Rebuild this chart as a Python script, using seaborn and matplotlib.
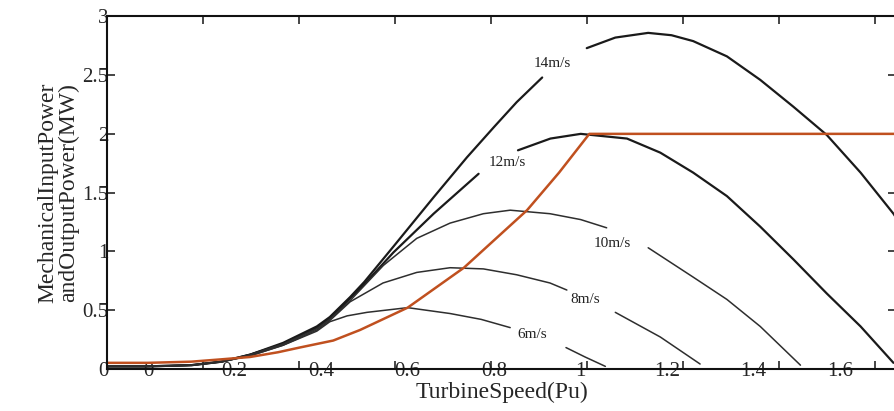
import matplotlib
matplotlib.use("Agg")
import matplotlib.pyplot as plt
import pandas as pd
import seaborn as sns

# Values (x in Pu, y in MW).
# Each wind speed curve is split where its label sits on the line.
speed_14a = [-0.095, 0.0, 0.1, 0.17, 0.236, 0.312, 0.39, 0.42, 0.467, 0.5,
             0.567, 0.66, 0.737, 0.8, 0.852, 0.911]
power_14a = [0.02, 0.02, 0.03, 0.06, 0.12, 0.22, 0.36, 0.44, 0.61, 0.74,
             1.04, 1.46, 1.80, 2.06, 2.27, 2.48]
speed_14b = [1.014, 1.08, 1.156, 1.21, 1.26, 1.338, 1.415, 1.492, 1.569,
             1.647, 1.723, 1.73]
power_14b = [2.73, 2.82, 2.86, 2.84, 2.79, 2.66, 2.46, 2.23, 1.99, 1.67,
             1.32, 1.28]

speed_12a = [-0.095, 0.0, 0.1, 0.17, 0.236, 0.312, 0.39, 0.42, 0.467, 0.5,
             0.567, 0.66, 0.764]
power_12a = [0.02, 0.02, 0.03, 0.06, 0.12, 0.21, 0.35, 0.43, 0.60, 0.72,
             0.99, 1.32, 1.66]
speed_12b = [0.855, 0.93, 1.0, 1.107, 1.184, 1.26, 1.338, 1.415, 1.492,
             1.569, 1.647, 1.723]
power_12b = [1.86, 1.96, 2.0, 1.96, 1.84, 1.67, 1.47, 1.21, 0.93, 0.64,
             0.36, 0.05]

speed_10a = [-0.095, 0.0, 0.1, 0.17, 0.236, 0.312, 0.39, 0.42, 0.467, 0.544,
             0.621, 0.698, 0.775, 0.837, 0.929, 1.0, 1.06]
power_10a = [0.02, 0.02, 0.03, 0.06, 0.12, 0.21, 0.34, 0.42, 0.58, 0.88,
             1.11, 1.24, 1.32, 1.35, 1.32, 1.27, 1.20]
speed_10b = [1.156, 1.26, 1.338, 1.415, 1.508]
power_10b = [1.03, 0.78, 0.59, 0.36, 0.03]

speed_8a = [-0.095, 0.0, 0.1, 0.17, 0.236, 0.312, 0.39, 0.42, 0.467, 0.543,
            0.621, 0.698, 0.775, 0.852, 0.929, 0.968]
power_8a = [0.02, 0.02, 0.03, 0.06, 0.11, 0.20, 0.33, 0.41, 0.57, 0.73,
            0.82, 0.86, 0.85, 0.80, 0.73, 0.67]
speed_8b = [1.08, 1.184, 1.276]
power_8b = [0.48, 0.27, 0.04]

speed_6a = [-0.095, 0.0, 0.1, 0.17, 0.236, 0.312, 0.39, 0.42, 0.46, 0.506,
            0.60, 0.698, 0.77, 0.837]
power_6a = [0.02, 0.02, 0.03, 0.06, 0.11, 0.20, 0.32, 0.40, 0.45, 0.48,
            0.52, 0.47, 0.42, 0.35]
speed_6b = [0.966, 1.01, 1.057]
power_6b = [0.18, 0.10, 0.02]

speed_out = [-0.095, 0.0, 0.1, 0.17, 0.236, 0.3, 0.35, 0.428, 0.49, 0.6,
             0.73, 0.876, 0.95, 1.02, 1.73]
power_out = [0.05, 0.05, 0.06, 0.08, 0.10, 0.14, 0.18, 0.24, 0.33, 0.52,
             0.86, 1.35, 1.67, 2.0, 2.0]

curve_labels = ["14m/s", "12m/s", "10m/s", "8m/s", "6m/s"]
label_x = [0.934, 0.83, 1.073, 1.01, 0.888]
label_y = [2.60, 1.76, 1.07, 0.59, 0.29]

x_ticks = [0, 0.2, 0.4, 0.6, 0.8, 1, 1.2, 1.4, 1.6]
x_tick_labels = ["0", "0.2", "0.4", "0.6", "0.8", "1", "1.2", "1.4", "1.6"]
x_marks = [0.127, 0.349, 0.571, 0.793, 1.015, 1.237, 1.459, 1.681]
y_ticks = [0, 0.5, 1, 1.5, 2, 2.5, 3]
y_tick_labels = ["0", "0.5", "1", "1.5", "2", "2.5", "3"]


def segments(name, parts):
    rows = []
    for k, (xs, ys) in enumerate(parts):
        for x, y in zip(xs, ys):
            rows.append({"curve": name, "seg": k, "speed": x, "power": y})
    return pd.DataFrame(rows)


curves = {
    "14m/s": segments("14m/s", [(speed_14a, power_14a), (speed_14b, power_14b)]),
    "12m/s": segments("12m/s", [(speed_12a, power_12a), (speed_12b, power_12b)]),
    "10m/s": segments("10m/s", [(speed_10a, power_10a), (speed_10b, power_10b)]),
    "8m/s": segments("8m/s", [(speed_8a, power_8a), (speed_8b, power_8b)]),
    "6m/s": segments("6m/s", [(speed_6a, power_6a), (speed_6b, power_6b)]),
}
styles = {
    "14m/s": ("#1a1a1a", 1.6),
    "12m/s": ("#1a1a1a", 1.6),
    "10m/s": ("#2e2e2e", 1.1),
    "8m/s": ("#2e2e2e", 1.1),
    "6m/s": ("#2e2e2e", 1.1),
}

sns.set_style("ticks")
plt.rcParams["font.family"] = ["Liberation Serif", "DejaVu Serif"]

fig = plt.figure(figsize=(8.94, 4.11), dpi=100)
ax = fig.add_axes([0.1197, 0.1029, 0.8826, 0.8571])

for name, df in curves.items():
    color, lw = styles[name]
    sns.lineplot(data=df, x="speed", y="power", units="seg", estimator=None,
                 sort=False, color=color, linewidth=lw, ax=ax)

out_df = pd.DataFrame({"speed": speed_out, "power": power_out})
sns.lineplot(data=out_df, x="speed", y="power", sort=False,
             color="#c0501f", linewidth=1.8, ax=ax)

for txt, x, y in zip(curve_labels, label_x, label_y):
    ax.text(x, y, txt, fontsize=11, ha="center", va="center", color="#222222")

ax.set_xlim(-0.095, 1.729)
ax.set_ylim(0, 3)

# tick labels and tick marks do not line up in the original
ax.set_xticks(x_ticks)
ax.set_xticklabels(x_tick_labels)
ax.set_xticks(x_marks, minor=True)
ax.tick_params(axis="x", which="major", length=0, pad=-5, labelsize=15)
ax.tick_params(axis="x", which="minor", direction="in", length=6, width=1.2,
               top=True, bottom=True)
ax.set_yticks(y_ticks)
ax.set_yticklabels(y_tick_labels)
ax.tick_params(axis="y", which="major", direction="in", length=6, width=1.2,
               left=True, right=True, pad=-1, labelsize=15)

for side in ["left", "bottom", "top", "right"]:
    ax.spines[side].set_visible(True)
    ax.spines[side].set_linewidth(1.5)
    ax.spines[side].set_color("#111111")

ax.set_xlabel("TurbineSpeed(Pu)", fontsize=17, labelpad=1)
ax.set_ylabel("MechanicalInputPower\nandOutputPower(MW)", fontsize=17,
              labelpad=2, linespacing=1.0)

fig.savefig("out.png", dpi=100)
